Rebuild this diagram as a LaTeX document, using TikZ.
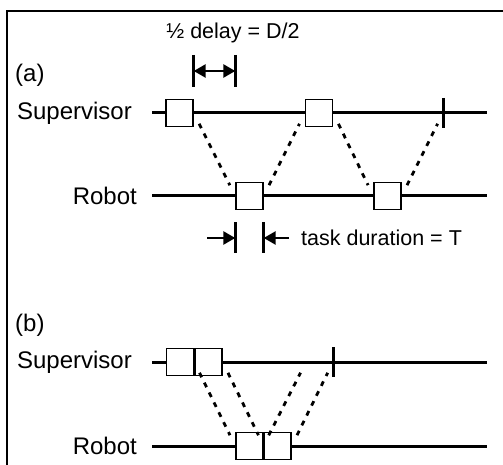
\documentclass[tikz,border=0pt]{standalone}
\usepackage{fontspec}
\setmainfont{Liberation Sans}
\usetikzlibrary{arrows.meta,positioning}

\begin{document}
\begin{tikzpicture}[x=1pt, y=-1pt, >={Triangle[length=12pt,width=13pt]},
  timeline/.style={line width=3pt},
  task/.style={draw, line width=1.4pt, fill=white, minimum width=27pt,
               minimum height=27pt, inner sep=0pt},
  msg/.style={line width=2.8pt, dash pattern=on 5pt off 6pt,
              shorten <=12pt, shorten >=12pt},
  lbl/.style={font=\fontsize{24}{27}\selectfont, inner sep=0pt},
  note/.style={font=\fontsize{21.5}{24}\selectfont, inner sep=0pt},
  bar/.style={line width=3pt}]

  \useasboundingbox (0,0) rectangle (503,465);

  %--- Frame
  \draw[line width=2.5pt] (7,465) -- (7,11) -- (503,11);

  %--- (a) Supervisor and Robot time lines
  \node[lbl, anchor=west] (capA) at (15,75) {(a)};
  \node[lbl, anchor=east] (supA) at (132,113) {Supervisor};
  \node[lbl, anchor=east] (robA) at (137,196) {Robot};
  \draw[timeline] (152,113) -- (487,113);
  \draw[timeline] (152,196) -- (487,196);

  \node[task] (sA1) at (179.5,113) {};
  \node[task] (sA2) at (319,113) {};
  \node[task] (rA1) at (249.5,196) {};
  \node[task] (rA2) at (387.5,196) {};
  \coordinate (tA) at (443,113);
  \draw[bar] ([yshift=15pt]tA) -- ([yshift=-15pt]tA);

  \draw[msg] (sA1.east) -- (rA1.west);
  \draw[msg] (rA1.east) -- (sA2.west);
  \draw[msg] (sA2.east) -- (rA2.west);
  \draw[msg] (rA2.east) -- (tA);

  %--- Half delay marker
  \node[note] (delay) at (233,33) {½ delay = D/2};
  \draw[bar] (sA1.east |- 0,55) -- (sA1.east |- 0,87);
  \draw[bar] (rA1.west |- 0,55) -- (rA1.west |- 0,87);
  \coordinate (dl) at (sA1.east |- 0,71);
  \coordinate (dr) at (rA1.west |- 0,71);
  \draw[<->, line width=2.6pt] (dl) -- (dr);

  %--- Task duration marker
  \draw[bar] (rA1.west |- 0,222) -- (rA1.west |- 0,253);
  \draw[bar] (rA1.east |- 0,222) -- (rA1.east |- 0,253);
  \coordinate (tl) at (207,238);
  \coordinate (tr) at (289,238);
  \draw[->, line width=2.6pt] (tl) -- (rA1.west |- tl);
  \draw[->, line width=2.6pt] (tr) -- (rA1.east |- tr);
  \node[note, anchor=west] (dur) at (301,238) {task duration = T};

  %--- (b) Supervisor and Robot time lines
  \node[lbl, anchor=west] (capB) at (15,325) {(b)};
  \node[lbl, anchor=east] (supB) at (132,362) {Supervisor};
  \node[lbl, anchor=east] (robB) at (137,446) {Robot};
  \draw[timeline] (152,362) -- (487,362);
  \draw[timeline] (152,446) -- (487,446);

  \node[task] (sB1) at (180,362) {};
  \node[task] (sB2) at (208.5,362) {};
  \node[task] (rB1) at (249.5,446) {};
  \node[task] (rB2) at (277.5,446) {};
  \coordinate (fB) at (306,362);
  \coordinate (tB) at (333,362);
  \draw[bar] ([yshift=15pt]tB) -- ([yshift=-15pt]tB);

  \draw[msg] (sB1.east) -- (rB1.west);
  \draw[msg] (sB2.east) -- (rB1.east);
  \draw[msg] (rB2.west) -- (fB);
  \draw[msg] (rB2.east) -- (tB);

\end{tikzpicture}
\end{document}
